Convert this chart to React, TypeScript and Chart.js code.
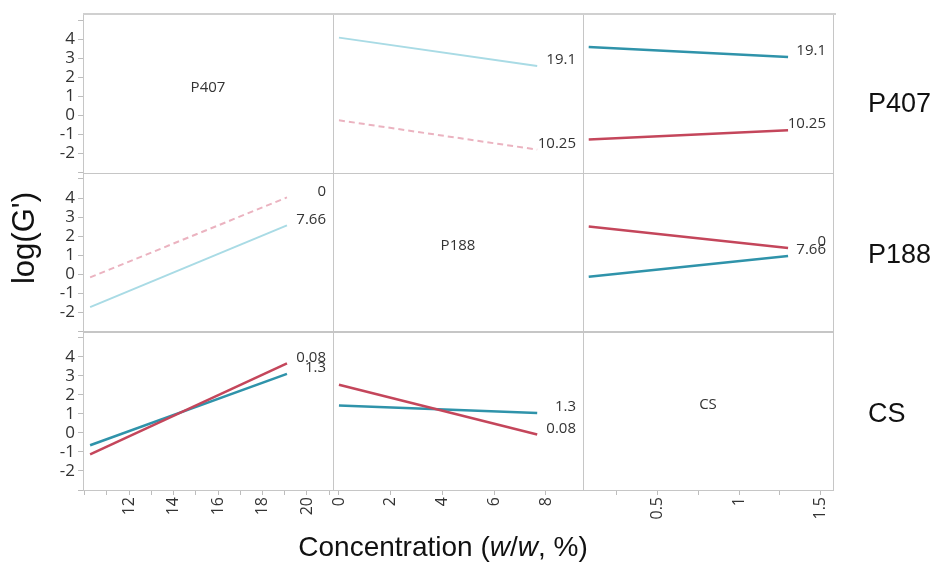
import React, { useEffect, useRef } from "react";
import { Chart, registerables } from "chart.js";

Chart.register(...registerables);

// Factor levels (x values of the line ends)
const p407X = [10.25, 19.1];
const p188X = [0, 7.66];
const csX = [0.08, 1.3];

// Level labels shown at the end of each trace
const p407Labels = ["10.25", "19.1"];
const p188Labels = ["0", "7.66"];
const csLabels = ["0.08", "1.3"];

// log(G') values
// Row P407 (traces = P407 level)
const rowP407_vsP188_lo = [-0.25, -1.79]; // P407 = 10.25
const rowP407_vsP188_hi = [4.09, 2.6]; // P407 = 19.1
const rowP407_vsCS_lo = [-1.26, -0.77];
const rowP407_vsCS_hi = [3.6, 3.07];
// Row P188 (traces = P188 level)
const rowP188_vsP407_lo = [-0.17, 4.03]; // P188 = 0
const rowP188_vsP407_hi = [-1.73, 2.56]; // P188 = 7.66
const rowP188_vsCS_lo = [2.5, 1.38];
const rowP188_vsCS_hi = [-0.14, 0.95];
// Row CS (traces = CS level)
const rowCS_vsP407_lo = [-1.13, 3.65]; // CS = 0.08
const rowCS_vsP407_hi = [-0.65, 3.1]; // CS = 1.3
const rowCS_vsP188_lo = [2.53, -0.09];
const rowCS_vsP188_hi = [1.44, 1.04];

// Tick labels
const yTickLabels = [-2, -1, 0, 1, 2, 3, 4];
const xP407TickLabels = [12, 14, 16, 18, 20];
const xP188TickLabels = [0, 2, 4, 6, 8];
const xCSTickLabels = [0.5, 1, 1.5];

const rowNames = ["P407", "P188", "CS"];
const colNames = ["P407", "P188", "CS"];

const TEAL = "#2f93aa";
const RED = "#c4465b";
const LIGHT_CYAN = "#a9dbe5";
const LIGHT_PINK = "#ebb3c0";

function pts(xs: number[], ys: number[]) {
  return xs.map((x, i) => ({ x, y: ys[i] }));
}

function ds(xs: number[], ys: number[], xId: string, yId: string, color: string, label: string, dashed = false, width = 2.5) {
  return {
    label,
    data: pts(xs, ys),
    xAxisID: xId,
    yAxisID: yId,
    borderColor: color,
    backgroundColor: color,
    borderWidth: width,
    borderDash: dashed ? [6, 4] : [],
    showLine: true,
    pointRadius: 0,
    pointHoverRadius: 0,
    fill: false,
  };
}

const SANS = "'Open Sans', 'Noto Sans', sans-serif";
const ARIAL = "'Liberation Sans', Arial, sans-serif";

const panelPlugin = {
  id: "panelPlugin",
  beforeDatasetsDraw(chart: any) {
    const ctx = chart.ctx;
    const xs = ["x1", "x2", "x3"].map((k) => chart.scales[k]);
    const ys = ["y1", "y2", "y3"].map((k) => chart.scales[k]);
    ctx.save();
    ctx.strokeStyle = "#c6c6c6";
    ctx.lineWidth = 1;
    for (const ysc of ys) {
      for (const xsc of xs) {
        ctx.strokeRect(Math.round(xsc.left) + 0.5, Math.round(ysc.top) + 0.5, Math.round(xsc.right - xsc.left), Math.round(ysc.bottom - ysc.top));
      }
    }
    // slightly heavier top frame line
    ctx.strokeStyle = "#d0d0d0";
    ctx.lineWidth = 2;
    ctx.beginPath();
    ctx.moveTo(chart.chartArea.left, Math.round(chart.chartArea.top));
    ctx.lineTo(chart.chartArea.right + 3, Math.round(chart.chartArea.top));
    ctx.stroke();
    // diagonal names
    ctx.fillStyle = "#333";
    ctx.font = `15px ${SANS}`;
    ctx.textAlign = "center";
    ctx.textBaseline = "middle";
    for (let i = 0; i < 3; i++) {
      const cx = (xs[i].left + xs[i].right) / 2;
      const cy = (ys[i].top + ys[i].bottom) / 2 - 6;
      ctx.fillText(colNames[i], cx, cy);
    }
    ctx.restore();
  },
  afterDatasetsDraw(chart: any) {
    const ctx = chart.ctx;
    ctx.save();
    ctx.fillStyle = "#333";
    ctx.font = `15px ${SANS}`;
    ctx.textAlign = "right";
    ctx.textBaseline = "middle";
    chart.data.datasets.forEach((d: any) => {
      const xsc = chart.scales[d.xAxisID];
      const ysc = chart.scales[d.yAxisID];
      const last = d.data[d.data.length - 1];
      ctx.fillText(d.label, xsc.right - 7, ysc.getPixelForValue(last.y) - 6);
    });
    // row labels on the right
    const ys = ["y1", "y2", "y3"].map((k) => chart.scales[k]);
    const offs = [11, 4, 4];
    ctx.font = `27px ${ARIAL}`;
    ctx.fillStyle = "#111";
    ctx.textAlign = "left";
    ys.forEach((ysc: any, i: number) => {
      ctx.fillText(rowNames[i], chart.chartArea.right + 35, (ysc.top + ysc.bottom) / 2 + offs[i]);
    });
    // y title
    ctx.save();
    ctx.translate(25, 238);
    ctx.rotate(-Math.PI / 2);
    ctx.textAlign = "center";
    ctx.font = `31px ${ARIAL}`;
    ctx.fillText("log(G')", 0, 0);
    ctx.restore();
    // x title with italic w
    const parts: [string, boolean][] = [["Concentration (", false], ["w", true], ["/", false], ["w", true], [", %)", false]];
    const fN = `28px ${ARIAL}`;
    const fI = `italic 28px ${ARIAL}`;
    let total = 0;
    const widths = parts.map(([t, it]) => {
      ctx.font = it ? fI : fN;
      const w = ctx.measureText(t).width;
      total += w;
      return w;
    });
    let x = 443 - total / 2;
    ctx.textAlign = "left";
    ctx.textBaseline = "middle";
    parts.forEach(([t, it], i) => {
      ctx.font = it ? fI : fN;
      ctx.fillText(t, x, 548);
      x += widths[i];
    });
    ctx.restore();
  },
};

function yScale(): any {
  return {
    type: "linear",
    position: "left",
    stack: "rows",
    stackWeight: 1,
    min: -3,
    max: 5.33,
    afterFit: (s: any) => {
      s.width = 83;
    },
    grid: { display: true, drawOnChartArea: false, drawTicks: true, tickLength: 5, color: "#bdbdbd" },
    border: { display: false },
    ticks: {
      stepSize: 1,
      includeBounds: false,
      autoSkip: false,
      padding: 3,
      color: "#333",
      font: { family: SANS, size: 17 },
      callback: (v: number) => (yTickLabels.includes(v) ? String(v) : ""),
    },
  };
}

function xScale(min: number, max: number, step: number, labels: number[]): any {
  return {
    type: "linear",
    position: "bottom",
    stack: "cols",
    stackWeight: 1,
    min,
    max,
    afterFit: (s: any) => {
      s.height = 73;
    },
    grid: { display: true, drawOnChartArea: false, drawTicks: true, tickLength: 5, color: "#bdbdbd" },
    border: { display: false },
    ticks: {
      stepSize: step,
      includeBounds: false,
      autoSkip: false,
      minRotation: 90,
      maxRotation: 90,
      padding: 2,
      color: "#333",
      font: { family: SANS, size: 16 },
      callback: (v: number) => (labels.some((l) => Math.abs(l - v) < 1e-9) ? String(v) : ""),
    },
  };
}

export default function App() {
  const ref = useRef<HTMLCanvasElement>(null);
  useEffect(() => {
    if (!ref.current) return;
    const chart = new Chart(ref.current, {
      type: "scatter",
      data: {
        datasets: [
          // Row P407
          ds(p188X, rowP407_vsP188_hi, "x2", "y1", LIGHT_CYAN, p407Labels[1], false, 2),
          ds(p188X, rowP407_vsP188_lo, "x2", "y1", LIGHT_PINK, p407Labels[0], true, 2),
          ds(csX, rowP407_vsCS_hi, "x3", "y1", TEAL, p407Labels[1]),
          ds(csX, rowP407_vsCS_lo, "x3", "y1", RED, p407Labels[0]),
          // Row P188
          ds(p407X, rowP188_vsP407_lo, "x1", "y2", LIGHT_PINK, p188Labels[0], true, 2),
          ds(p407X, rowP188_vsP407_hi, "x1", "y2", LIGHT_CYAN, p188Labels[1], false, 2),
          ds(csX, rowP188_vsCS_lo, "x3", "y2", RED, p188Labels[0]),
          ds(csX, rowP188_vsCS_hi, "x3", "y2", TEAL, p188Labels[1]),
          // Row CS
          ds(p407X, rowCS_vsP407_lo, "x1", "y3", RED, csLabels[0]),
          ds(p407X, rowCS_vsP407_hi, "x1", "y3", TEAL, csLabels[1]),
          ds(p188X, rowCS_vsP188_lo, "x2", "y3", RED, csLabels[0]),
          ds(p188X, rowCS_vsP188_hi, "x2", "y3", TEAL, csLabels[1]),
        ] as any,
      },
      options: {
        responsive: false,
        animation: false,
        layout: { padding: { top: 14, right: 104, left: 0, bottom: 0 } },
        plugins: { legend: { display: false }, tooltip: { enabled: false } },
        scales: {
          // left stack is placed top-down in reverse order of declaration
          y3: yScale(),
          y2: yScale(),
          y1: yScale(),
          x1: xScale(9.93, 21.17, 1, xP407TickLabels),
          x2: xScale(-0.23, 9.43, 2, xP188TickLabels),
          x3: xScale(0.045, 1.575, 0.25, xCSTickLabels),
        },
      },
      plugins: [panelPlugin],
    });
    return () => chart.destroy();
  }, []);
  return (
    <div style={{ position: "absolute", left: 0, top: 0, width: 937, height: 563, background: "#fff" }}>
      <canvas ref={ref} width={937} height={563} style={{ width: 937, height: 563, display: "block" }} />
    </div>
  );
}
